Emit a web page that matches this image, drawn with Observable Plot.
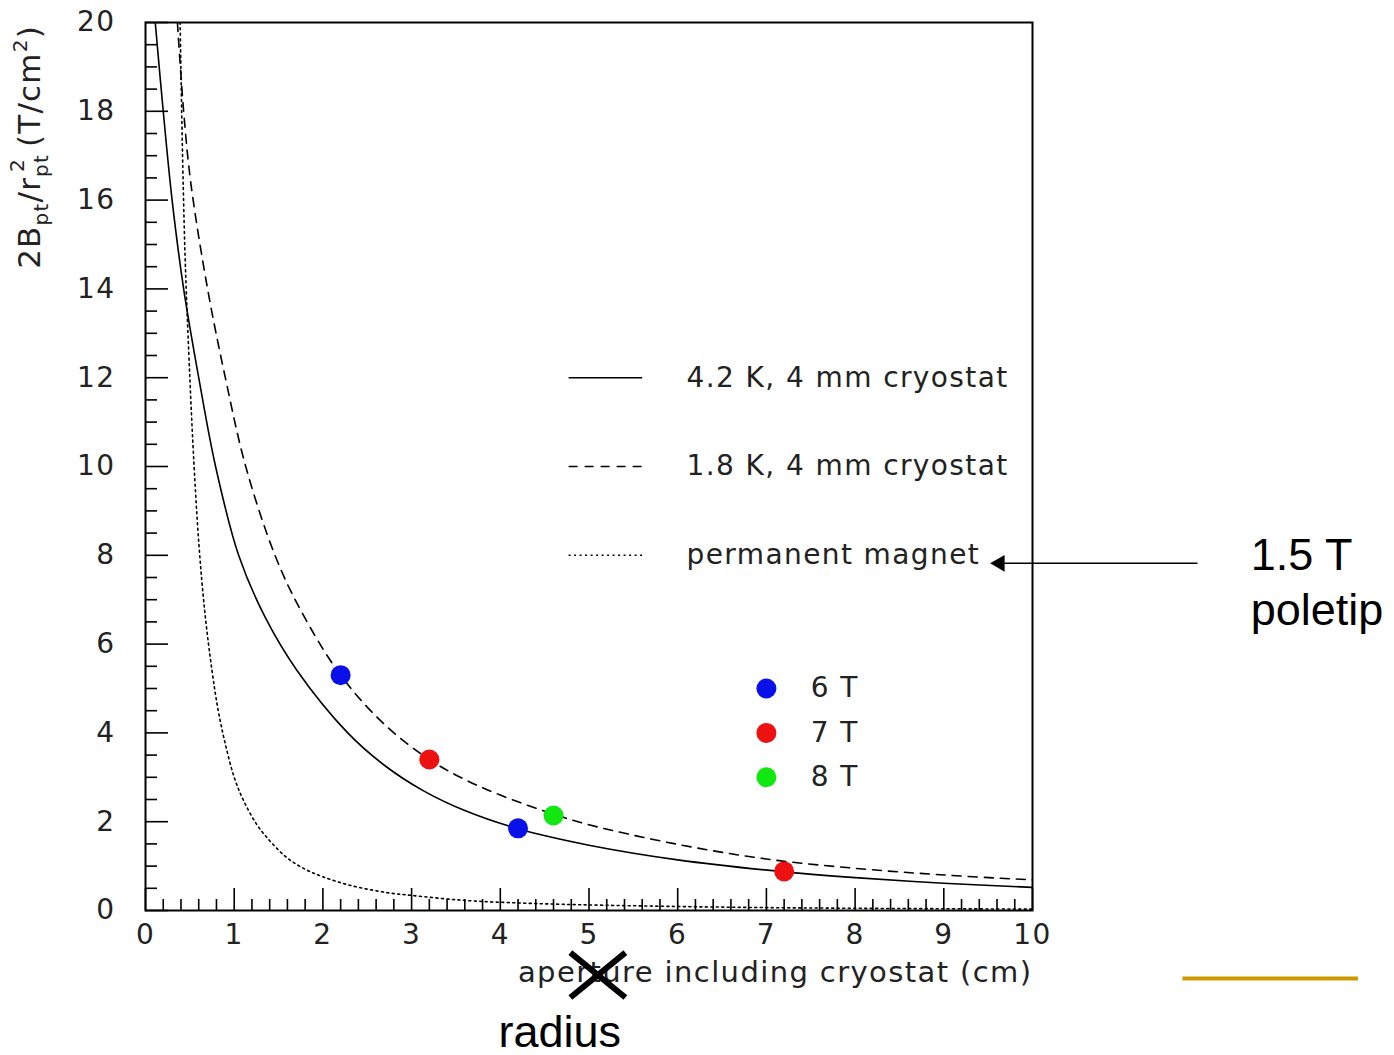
<!DOCTYPE html>
<html><head><meta charset="utf-8">
<script src="https://cdn.jsdelivr.net/npm/d3@7"></script>
<script src="https://cdn.jsdelivr.net/npm/@observablehq/plot@0.6"></script>
<style>body{margin:0;background:#fff}</style>
</head><body><div id="chart"></div>
<script>
// ---- data ----
const curve42K_x = [0.11,0.20,0.30,0.43,0.60,0.79,1.05,1.35,1.71,2.28,2.7,3.13,3.6,4.2,5.0,6.0,7.2,8.0,9.0,10.0];
const curve42K_y = [20,18,16,14,12,10,8,6.6,5.4,4.0,3.26,2.7,2.25,1.84,1.47,1.14,0.87,0.74,0.615,0.52];
const curve18K_x = [0.36,0.43,0.51,0.70,0.90,1.13,1.46,1.74,2.2,2.7,3.2,3.6,4.0,4.6,5.0,6.0,7.0,8.0,9.0,10.0];
const curve18K_y = [20,18,16.4,14,12,10,8,6.8,5.3,4.18,3.4,2.95,2.6,2.17,1.93,1.49,1.16,0.95,0.80,0.69];
const curvePM_x = [0.39,0.42,0.45,0.50,0.54,0.60,0.67,0.75,0.82,0.90,1.00,1.10,1.25,1.41,1.60,1.80,2.00,2.30,2.73,3.00,3.58,4.2,4.9,6,7,8,9,10];
const curvePM_y = [20,16.8,14.5,12,10.3,8.3,6.7,5.4,4.5,3.75,3.0,2.5,1.95,1.55,1.18,0.93,0.76,0.57,0.40,0.34,0.23,0.17,0.13,0.09,0.065,0.05,0.04,0.03];

const pointX = [2.2,3.2,4.2,4.6,7.2];
const pointY = [5.3,3.4,1.85,2.14,0.88];
const pointField = ["6 T","7 T","6 T","8 T","7 T"];

const fieldLabels = ["6 T","7 T","8 T"];
const fieldColors = ["#0a10e8","#ee1111","#11e811"];
const fieldLegendY = [5,4,3];
const fieldLegendX = 7.0, fieldLegendTextX = 7.5;

const lineLabels = ["4.2 K, 4 mm cryostat","1.8 K, 4 mm cryostat","permanent magnet"];
const lineDash = [null,"9,7","2,3.5"];
const lineLegendY = [12,10,8];
const lineLegendX1 = 4.77, lineLegendX2 = 5.6, lineLegendTextX = 6.1;

const xMajor = d3.range(0,11,1);
const xMinor = d3.range(0,50).map(i=>i*0.2).filter(v=>Math.abs(v-Math.round(v))>1e-6);
const yMajor = d3.range(0,21,2);
const yMinor = d3.range(0,41).map(i=>i*0.5).filter(v=>v%2!==0);

// annotations (data coordinates)
const arrowFrom = [11.86,7.82], arrowTo = [9.62,7.82];
const noteLines = ["1.5 T","poletip"];
const noteX = 12.46, noteY = [8.0,6.75];
const radiusText = "radius", radiusX = 3.98, radiusY = -2.76;
const crossBox = [4.79,5.41,-0.95,-1.96];
const goldLine = [11.69,13.67,-1.53];

// ---- layout ----
const W=1394,H=1055,mL=145,mR=362,mT=22,mB=145;
const pw=W-mL-mR, ph=H-mT-mB;
const paw = "DejaVu Sans";
const series = [
  {x:curve42K_x,y:curve42K_y,dash:lineDash[0]},
  {x:curve18K_x,y:curve18K_y,dash:lineDash[1]},
  {x:curvePM_x,y:curvePM_y,dash:lineDash[2]}
];
const colorOf = f => fieldColors[fieldLabels.indexOf(f)];
const legendRows = lineLabels.map((l,i)=>({l,y:lineLegendY[i],dash:lineDash[i]}));

const marks = [];
series.forEach(s=>{
  const d = s.x.map((x,i)=>({x,y:s.y[i]}));
  marks.push(Plot.line(d,{x:"x",y:"y",curve:"catmull-rom",stroke:"#000",strokeWidth:1.6,strokeDasharray:s.dash,clip:true}));
});
// ticks inside the frame
marks.push(Plot.tickX(xMajor,{x:d=>d,insetTop:ph-22,stroke:"#000",strokeWidth:1.6}));
marks.push(Plot.tickX(xMinor,{x:d=>d,insetTop:ph-11,stroke:"#000",strokeWidth:1.6}));
marks.push(Plot.tickY(yMajor,{y:d=>d,insetRight:pw-23,stroke:"#000",strokeWidth:1.6}));
marks.push(Plot.tickY(yMinor,{y:d=>d,insetRight:pw-12,stroke:"#000",strokeWidth:1.6}));
marks.push(Plot.frame({stroke:"#000",strokeWidth:2}));
// data points
marks.push(Plot.dot(pointX.map((x,i)=>({x,y:pointY[i],f:pointField[i]})),{x:"x",y:"y",r:10,fill:d=>colorOf(d.f),stroke:null}));
// line legend
legendRows.forEach(row=>{
  marks.push(Plot.link([row],{x1:()=>lineLegendX1,x2:()=>lineLegendX2,y1:"y",y2:"y",stroke:"#000",strokeWidth:1.6,strokeDasharray:row.dash}));
});
marks.push(Plot.text(legendRows,{x:()=>lineLegendTextX,y:"y",text:"l",textAnchor:"start",fontFamily:paw,fontSize:28,fill:"#222"}));
// field legend
marks.push(Plot.dot(fieldLabels,{x:()=>fieldLegendX,y:(d,i)=>fieldLegendY[i],r:10,fill:d=>colorOf(d),stroke:null}));
marks.push(Plot.text(fieldLabels,{x:()=>fieldLegendTextX,y:(d,i)=>fieldLegendY[i],text:d=>d,textAnchor:"start",fontFamily:paw,fontSize:28,fill:"#222"}));
// x axis title
marks.push(Plot.text(["aperture including cryostat (cm)"],{frameAnchor:"bottom-right",textAnchor:"end",dy:71,fontFamily:paw,fontSize:29,fill:"#222"}));
// annotations
marks.push(Plot.link([0],{x1:()=>crossBox[0],x2:()=>crossBox[1],y1:()=>crossBox[2],y2:()=>crossBox[3],stroke:"#000",strokeWidth:6}));
marks.push(Plot.link([0],{x1:()=>crossBox[0],x2:()=>crossBox[1],y1:()=>crossBox[3],y2:()=>crossBox[2],stroke:"#000",strokeWidth:6}));
marks.push(Plot.link([0],{x1:()=>goldLine[0],x2:()=>goldLine[1],y1:()=>goldLine[2],y2:()=>goldLine[2],stroke:"#cc9900",strokeWidth:4}));
marks.push(Plot.link([0],{x1:()=>arrowFrom[0],x2:()=>arrowTo[0],y1:()=>arrowFrom[1],y2:()=>arrowTo[1],stroke:"#000",strokeWidth:1.6}));
marks.push(Plot.dot([0],{x:()=>arrowTo[0],y:()=>arrowTo[1],symbol:"triangle2",rotate:-90,r:8,dx:1,fill:"#000",stroke:null}));
marks.push(Plot.text(noteLines,{x:()=>noteX,y:(d,i)=>noteY[i],text:d=>d,textAnchor:"start",fontFamily:"Liberation Sans",fontSize:45,fill:"#000"}));
marks.push(Plot.text([radiusText],{x:()=>radiusX,y:()=>radiusY,text:d=>d,textAnchor:"start",fontFamily:"Liberation Sans",fontSize:45,fill:"#000"}));
// axes labels (ticks drawn inside)
marks.push(Plot.axisX(xMajor,{tickSize:0,tickPadding:14,fontSize:28,fontFamily:paw,fill:"#222",label:null}));
marks.push(Plot.axisY(yMajor,{tickSize:0,tickPadding:30,fontSize:28,fontFamily:paw,fill:"#222",label:null}));

const chart = Plot.plot({
  width:W,height:H,marginLeft:mL,marginRight:mR,marginTop:mT,marginBottom:mB,
  x:{domain:[0,10]},y:{domain:[0,20]},
  style:{fontFamily:paw,fontSize:"28px",background:"#fff",color:"#222",overflow:"visible",letterSpacing:"1.4px"},
  marks
});
document.getElementById("chart").appendChild(chart);
const svg = d3.select(chart);
svg.selectAll("g[font-family='Liberation Sans']").attr("letter-spacing","0px");

// y axis title with sub/superscripts
const t = svg.append("text").attr("transform","translate(40,25) rotate(-90)")
  .attr("text-anchor","end").attr("font-family",paw).attr("font-size",31).attr("fill","#222").attr("letter-spacing","1.2px");
t.append("tspan").text("2B");
t.append("tspan").attr("font-size",20).attr("dy",8).text("pt");
t.append("tspan").attr("dy",-8).text("/r");
t.append("tspan").attr("font-size",20).attr("dy",8).text("pt");
t.append("tspan").attr("font-size",20).attr("dy",-24).attr("dx",-18).text("2");
t.append("tspan").attr("dy",16).text(" (T/cm");
t.append("tspan").attr("font-size",20).attr("dy",-13).text("2");
t.append("tspan").attr("dy",13).text(")");
</script>
</body></html>
